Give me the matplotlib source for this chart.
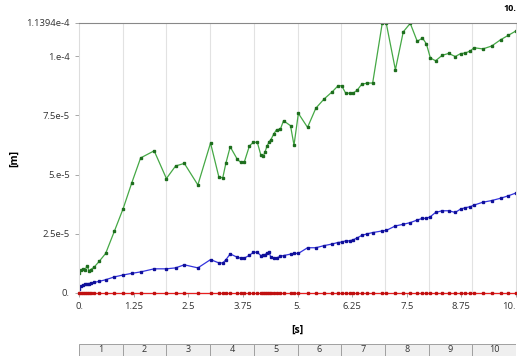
import matplotlib
matplotlib.use('Agg')
import matplotlib.pyplot as plt
import numpy as np

plt.rcParams['font.family'] = ['Open Sans', 'DejaVu Sans']

# time points [s]
t = [0.0, 0.05, 0.09, 0.14, 0.18, 0.23, 0.27, 0.35, 0.46, 0.61, 0.81, 1.01, 1.21, 1.41, 1.72,
     2.0, 2.21, 2.41, 2.72, 3.01, 3.2, 3.29, 3.36, 3.46, 3.62, 3.70, 3.78, 3.90, 3.99, 4.08,
     4.16, 4.22, 4.26, 4.30, 4.35, 4.39, 4.46, 4.52, 4.61, 4.68, 4.84, 4.92, 5.02, 5.23, 5.42,
     5.61, 5.80, 5.92, 6.01, 6.10, 6.19, 6.28, 6.37, 6.47, 6.60, 6.72, 6.94, 7.03, 7.24, 7.42,
     7.58, 7.74, 7.86, 7.95, 8.04, 8.16, 8.31, 8.46, 8.61, 8.73, 8.84, 8.95, 9.04, 9.24, 9.44,
     9.65, 9.82, 10.0]

# values in 1e-5 m
maximum = [0.85, 0.96, 1.02, 0.96, 1.16, 0.94, 0.99, 1.10, 1.33, 1.67, 2.61, 3.56, 4.66, 5.70, 6.0,
           4.83, 5.36, 5.47, 4.56, 6.33, 4.9, 4.86, 5.47, 6.17, 5.65, 5.51, 5.51, 6.21, 6.36, 6.36,
           5.83, 5.79, 5.97, 6.19, 6.38, 6.47, 6.72, 6.89, 6.92, 7.27, 7.06, 6.24, 7.58, 6.99, 7.80,
           8.19, 8.50, 8.73, 8.75, 8.44, 8.43, 8.44, 8.57, 8.81, 8.86, 8.86, 11.394, 11.394, 9.42, 11.02,
           11.38, 10.62, 10.76, 10.51, 9.92, 9.80, 10.03, 10.11, 9.98, 10.10, 10.13, 10.21, 10.35, 10.30, 10.42,
           10.69, 10.87, 11.06]

average = [0.17, 0.28, 0.33, 0.36, 0.39, 0.40, 0.41, 0.45, 0.49, 0.56, 0.68, 0.76, 0.83, 0.89, 1.02,
           1.02, 1.06, 1.19, 1.06, 1.41, 1.27, 1.27, 1.40, 1.65, 1.51, 1.47, 1.47, 1.59, 1.72, 1.72,
           1.58, 1.60, 1.62, 1.69, 1.72, 1.50, 1.47, 1.48, 1.55, 1.58, 1.64, 1.67, 1.67, 1.91, 1.91,
           2.00, 2.07, 2.13, 2.15, 2.20, 2.20, 2.25, 2.33, 2.43, 2.50, 2.55, 2.62, 2.64, 2.83, 2.90,
           2.97, 3.08, 3.15, 3.15, 3.22, 3.40, 3.47, 3.47, 3.40, 3.54, 3.60, 3.64, 3.71, 3.83, 3.90,
           4.00, 4.10, 4.22]

minimum = [0.0] * len(t)

yticks = [0, 2.5e-5, 5e-5, 7.5e-5, 1e-4, 1.1394e-4]
ytick_labels = ['0.', '2.5e-5', '5.e-5', '7.5e-5', '1.e-4', '1.1394e-4']
xticks = [0, 1.25, 2.5, 3.75, 5, 6.25, 7.5, 8.75, 10]
xtick_labels = ['0.', '1.25', '2.5', '3.75', '5.', '6.25', '7.5', '8.75', '10.']
steps = [1, 2, 3, 4, 5, 6, 7, 8, 9, 10]

t = np.array(t)
fig = plt.figure(figsize=(5.17, 3.58), dpi=100)
ax = fig.add_axes([79/517, 65/358, 437/517, 270/358])

ax.plot(t, np.array(maximum)*1e-5, color='#45a845', lw=0.9, marker='s', ms=1.5,
        mfc='#1e6e1e', mec='#1e6e1e')
ax.plot(t, np.array(average)*1e-5, color='#3333dd', lw=0.9, marker='s', ms=1.5,
        mfc='#10109a', mec='#10109a')
ax.plot(t, minimum, color='#e82020', lw=0.9, marker='s', ms=1.5,
        mfc='#c01010', mec='#c01010', clip_on=False, zorder=5)

ax.set_xlim(0, 10)
ax.set_ylim(0, 1.1394e-4)
ax.set_xticks(xticks)
ax.set_xticklabels(xtick_labels)
ax.set_yticks(yticks)
ax.set_yticklabels(ytick_labels)
ax.tick_params(labelsize=6.8, colors='#333333', length=3, width=0.6)
ax.tick_params(axis='both', color='#999999')
ax.get_xticklabels()[-1].set_ha('right')

for s in range(1, 10):
    ax.axvline(s, color='#e2e2e2', lw=0.8, zorder=0)

ax.spines['top'].set_color('#888888')
ax.spines['left'].set_color('#dddddd')
ax.spines['right'].set_color('#dddddd')
ax.spines['bottom'].set_color('#999999')
for sp in ax.spines.values():
    sp.set_linewidth(0.8)

ax.set_ylabel('[m]', fontsize=7.5, weight='bold')
ax.set_xlabel('[s]', fontsize=7.5, weight='bold', labelpad=10)
ax.yaxis.set_label_coords(-0.135, 0.5)

fig.text(0.999, 0.975, '10.', ha='right', va='center', fontsize=6.5, weight='bold')

# step table at the bottom
tab = fig.add_axes([79/517, 2/358, 437/517, 12/358])
tab.bar(np.array(steps) - 0.5, 1, width=1, color='#efefef', edgecolor='#a0a0a0', lw=0.7)
for s in steps:
    tab.text(s - 0.5, 0.5, str(s), ha='center', va='center', fontsize=6.5, color='#333333')
tab.set_xlim(0, 10)
tab.set_ylim(0, 1)
tab.axis('off')

fig.savefig('out.png', dpi=100)
